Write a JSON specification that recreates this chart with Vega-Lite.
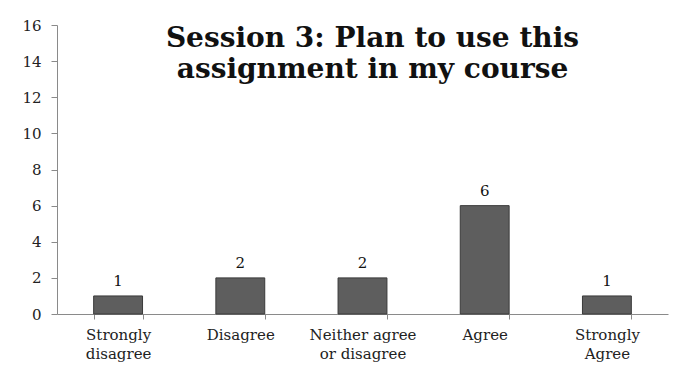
{
  "$schema": "https://vega.github.io/schema/vega-lite/v6.json",
  "autosize": {"type": "none"},
  "width": 611,
  "height": 289,
  "padding": {"left": 57, "top": 25, "right": 14, "bottom": 56},
  "background": "white",
  "title": {
    "text": ["Session 3: Plan to use this", "assignment in my course"],
    "font": "DejaVu Serif",
    "fontSize": 28,
    "fontWeight": "bold",
    "color": "#111111",
    "anchor": "middle",
    "dx": 10,
    "offset": -66,
    "lineHeight": 31
  },
  "data": {
    "values": [
      {"response": "Strongly disagree", "count": 1},
      {"response": "Disagree", "count": 2},
      {"response": "Neither agree or disagree", "count": 2},
      {"response": "Agree", "count": 6},
      {"response": "Strongly Agree", "count": 1}
    ]
  },
  "config": {
    "view": {"stroke": null},
    "axis": {
      "labelFont": "DejaVu Serif",
      "labelFontSize": 15,
      "labelColor": "#222222",
      "domainColor": "#8a8a8a",
      "tickColor": "#8a8a8a",
      "grid": false,
      "title": null
    }
  },
  "encoding": {
    "x": {
      "field": "response",
      "type": "nominal",
      "sort": null,
      "scale": {"paddingInner": 0.6, "paddingOuter": 0.3},
      "axis": {
        "labelAngle": 0,
        "tickBand": "extent",
        "tickSize": 5,
        "labelPadding": 8,
        "labelLineHeight": 19,
        "labelExpr": "datum.value == 'Strongly disagree' ? ['Strongly','disagree'] : datum.value == 'Neither agree or disagree' ? ['Neither agree','or disagree'] : datum.value == 'Strongly Agree' ? ['Strongly','Agree'] : datum.value"
      }
    },
    "y": {
      "field": "count",
      "type": "quantitative",
      "scale": {"domain": [0, 16]},
      "axis": {"values": [0, 2, 4, 6, 8, 10, 12, 14, 16], "tickSize": 6, "labelPadding": 10}
    }
  },
  "layer": [
    {
      "mark": {"type": "bar", "color": "#5e5e5e", "stroke": "#3a3a3a", "strokeWidth": 1}
    },
    {
      "mark": {"type": "text", "baseline": "bottom", "dy": -7, "font": "DejaVu Serif", "fontSize": 15, "color": "#111111"},
      "encoding": {"text": {"field": "count", "type": "quantitative"}}
    }
  ]
}
